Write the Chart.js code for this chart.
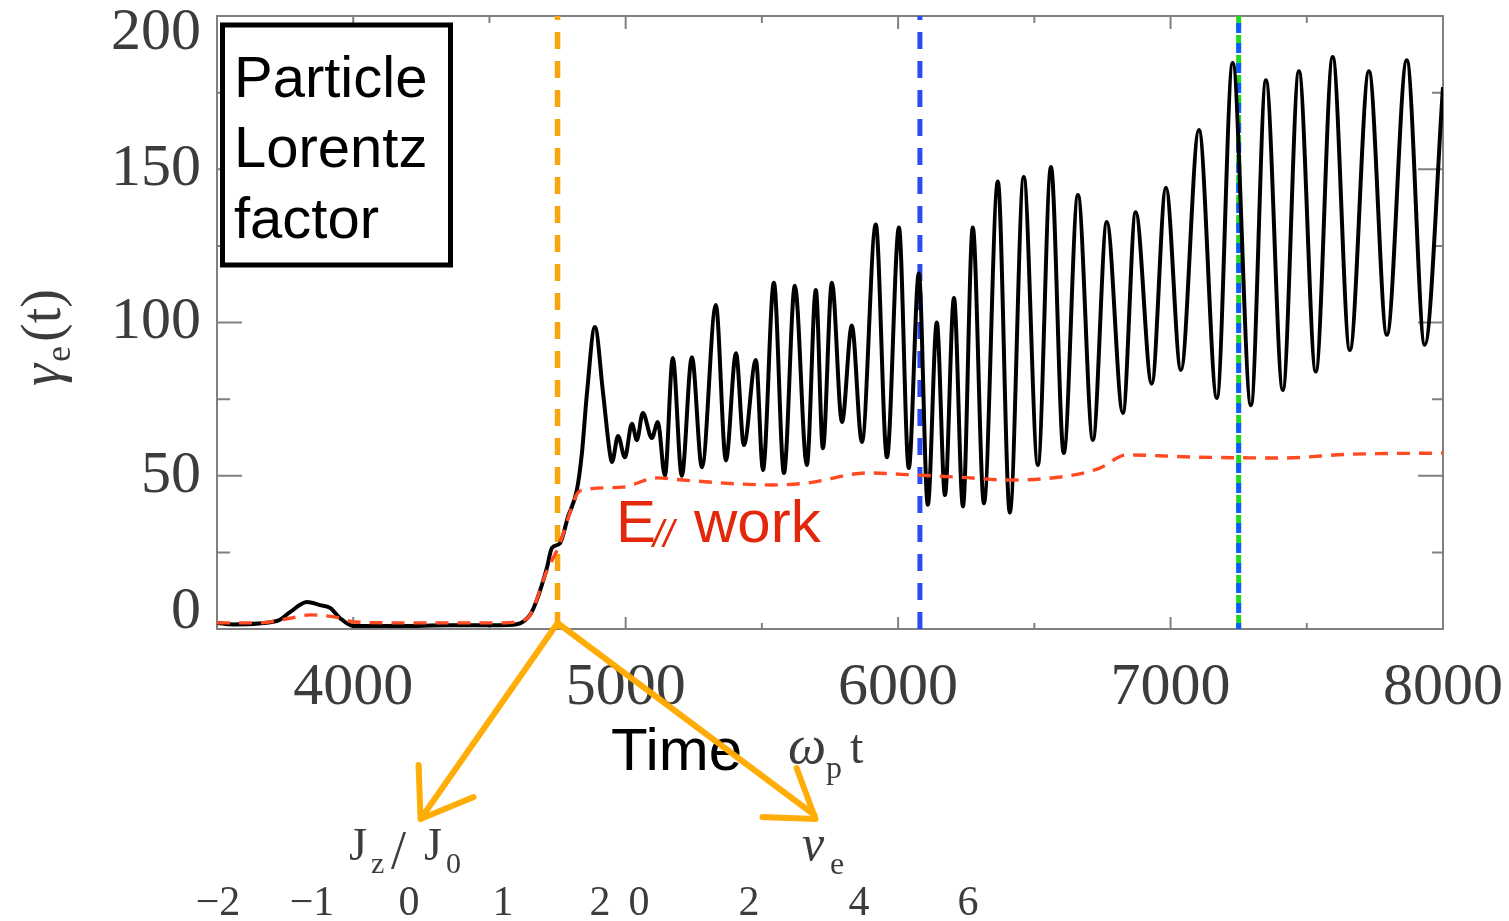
<!DOCTYPE html>
<html>
<head>
<meta charset="utf-8">
<script src="https://cdn.jsdelivr.net/npm/chart.js@4.4.0/dist/chart.umd.min.js"></script>
<style>
  body { margin: 0; background: #fff; }
  #wrap { width: 1509px; height: 921px; position: relative; }
</style>
</head>
<body>
<div id="wrap"><canvas id="gammaChart"></canvas></div>
<script>
// Lorentz factor of the particle vs time (omega_p t)
const gammaT = [3500, 3560, 3720, 3768, 3830, 3878, 3915, 3951, 4000, 4170,
                4350, 4575, 4649, 4674, 4711, 4729, 4759, 4788, 4821, 4839,
                4858, 4887, 4917, 4942, 4950, 4972, 4997, 5023, 5041, 5063,
                5096, 5118, 5144, 5173, 5206, 5243, 5280, 5331, 5368, 5405,
                5434, 5478, 5504, 5544, 5581, 5621, 5665, 5698, 5724, 5757,
                5794, 5830, 5867, 5918, 5959, 6003, 6039, 6076, 6109, 6142,
                6172, 6205, 6238, 6274, 6315, 6366, 6410, 6461, 6513, 6561,
                6608, 6660, 6715, 6766, 6825, 6872, 6931, 6983, 7038, 7104,
                7170, 7228, 7295, 7350, 7412, 7471, 7533, 7595, 7658, 7728,
                7794, 7867, 7933, 8000];
const gammaV = [2, 1.5, 2.6, 5.5, 8.8, 7.8, 6.9, 3.6, 1, 1,
                1.2, 1.3, 4.6, 9.5, 20, 26.4, 28, 36.5, 45.4, 57,
                77, 98.5, 77, 57.4, 54.5, 63, 56, 67, 61.6, 70.5,
                62.3, 67.5, 50, 88.4, 50, 88.7, 52.8, 105.7, 55, 90,
                60, 87.8, 51.9, 113, 50.9, 112, 53.5, 110.6, 59, 113,
                67.5, 99, 61, 132, 56, 131, 52.5, 116, 40.5, 100,
                43.7, 108, 40, 131, 41, 146, 38, 147.5, 53.5, 150.7,
                57.4, 141.6, 61.7, 132.8, 70.5, 136, 80, 144, 84.5, 162.8,
                75.4, 184.7, 73, 179, 78, 182, 84, 186.6, 91, 182,
                96, 185.6, 92.7, 176.8];

// work done by the parallel electric field
const workT = [3500, 3660, 3768, 3841, 3951, 4000, 4170, 4540, 4612, 4649,
               4711, 4759, 4788, 4821, 4843, 4990, 5115, 5210, 5419, 5540,
               5665, 5885, 6069, 6227, 6410, 6641, 6740, 6839, 7082, 7412,
               7654, 8000];
const workV = [2, 2, 3.5, 4.6, 3.6, 2.3, 2, 2, 2.6, 4.5,
               19, 28, 36, 44, 45.4, 46.3, 49.3, 48.6, 47.3, 47,
               47.6, 50.9, 50.2, 49.5, 48.6, 50.2, 52.5, 56.8, 56.1, 55.8,
               57, 57.4];

// snapshot times marked with vertical dashed lines
const markerTimes = [4750, 6080, 7250];
const markerColors = ['#f9a30f', '#2b4cf2', '#0a5cff'];

const xTicks = [4000, 5000, 6000, 7000, 8000];
const xMinor = [4500, 5500, 6500, 7500];
const yTicks = [0, 50, 100, 150, 200];
const yMinor = [25, 75, 125, 175];

const serif = '"Liberation Serif", "DejaVu Serif", serif';
const sans = '"Liberation Sans", Arial, sans-serif';
const greyText = '#3c3c3c';

const pts = (xs, ys) => xs.map((t, i) => ({ x: t, y: ys[i] }));
const vline = t => [{ x: t, y: 0 }, { x: t, y: 200 }];

const datasets = [
  {
    label: 'E work',
    data: pts(workT, workV),
    borderColor: '#ff4a22',
    borderWidth: 3.4,
    borderDash: [13, 9],
    pointRadius: 0,
    cubicInterpolationMode: 'monotone',
    order: 0
  },
  {
    label: 'gamma',
    data: pts(gammaT, gammaV),
    borderColor: '#000',
    borderWidth: 4,
    pointRadius: 0,
    cubicInterpolationMode: 'monotone',
    order: 1
  },
  {
    // green line under the last blue one
    label: 'snap green',
    data: vline(markerTimes[2]),
    borderColor: '#1fd81f',
    borderWidth: 5,
    borderDash: [14, 6],
    pointRadius: 0,
    order: 3
  }
];
markerTimes.forEach((t, i) => {
  datasets.push({
    label: 'snap ' + i,
    data: vline(t),
    borderColor: markerColors[i],
    borderWidth: i === 0 ? 5.5 : 5,
    borderDash: i === 2 ? [10, 10] : [17, 12],
    borderDashOffset: i === 2 ? 4 : 0,
    pointRadius: 0,
    order: 2
  });
});

// frame, inward ticks, y tick labels and the annotations
const frame = {
  id: 'frame',
  beforeDatasetsDraw(chart) {
    const { ctx, chartArea: a, scales: { x, y } } = chart;
    ctx.save();
    ctx.strokeStyle = '#808080';
    ctx.lineWidth = 2;
    ctx.strokeRect(a.left, a.top, a.right - a.left, a.bottom - a.top);
    ctx.beginPath();
    xTicks.concat(xMinor).forEach(v => {
      const px = x.getPixelForValue(v);
      const major = xTicks.includes(v);
      ctx.moveTo(px, a.bottom); ctx.lineTo(px, a.bottom - (major ? 12 : 6));
      ctx.moveTo(px, a.top); ctx.lineTo(px, a.top + (major ? 13 : 7));
    });
    yTicks.concat(yMinor).forEach(v => {
      const py = y.getPixelForValue(v);
      const major = yTicks.includes(v);
      ctx.moveTo(a.left, py); ctx.lineTo(a.left + (major ? 25 : 13), py);
      ctx.moveTo(a.right, py); ctx.lineTo(a.right - (major ? 25 : 11), py);
    });
    ctx.stroke();
    ctx.restore();
  },
  afterDraw(chart) {
    const { ctx, chartArea: a, scales: { x, y } } = chart;
    ctx.save();
    // y tick labels, kept inside the frame like the original
    ctx.fillStyle = greyText;
    ctx.font = '60px ' + serif;
    ctx.textAlign = 'right';
    ctx.textBaseline = 'middle';
    yTicks.forEach(v => {
      let py = y.getPixelForValue(v);
      py = Math.min(Math.max(py, a.top + 17), a.bottom - 17);
      ctx.fillText(String(v), a.left - 16, py);
    });

    // y axis title gamma_e(t)
    ctx.save();
    ctx.translate(60, 386);
    ctx.rotate(-Math.PI / 2);
    ctx.textAlign = 'left';
    ctx.textBaseline = 'alphabetic';
    ctx.font = 'italic 56px ' + serif;
    ctx.fillText('γ', 0, 0);
    let w = ctx.measureText('γ').width + 2;
    ctx.font = '36px ' + serif;
    ctx.fillText('e', w, 10);
    w += ctx.measureText('e').width + 4;
    ctx.font = '56px ' + serif;
    ctx.fillText('(t)', w, 0);
    ctx.restore();

    // omega_p t
    ctx.textAlign = 'left';
    ctx.textBaseline = 'alphabetic';
    ctx.font = 'italic 54px ' + serif;
    ctx.fillText('ω', 788, 763);
    ctx.font = '32px ' + serif;
    ctx.fillText('p', 826, 778);
    ctx.font = '48px ' + serif;
    ctx.fillText('t', 850, 763);

    // labels of the neighbouring panels
    ctx.font = '46px ' + serif;
    ctx.fillText('J', 349, 860);
    ctx.font = '30px ' + serif;
    ctx.fillText('z', 371, 873);
    ctx.font = '54px ' + serif;
    ctx.fillText('/', 391, 868);
    ctx.font = '46px ' + serif;
    ctx.fillText('J', 424, 860);
    ctx.font = '30px ' + serif;
    ctx.fillText('0', 446, 873);
    ctx.font = 'italic 50px ' + serif;
    ctx.fillText('v', 802, 860);
    ctx.font = '32px ' + serif;
    ctx.fillText('e', 830, 874);

    ctx.font = '42px ' + serif;
    ctx.textAlign = 'center';
    const bottomNums = [['−2', 218], ['−1', 312], ['0', 409], ['1', 503],
                        ['2', 600], ['0', 639], ['2', 749], ['4', 859], ['6', 968]];
    bottomNums.forEach(([s, px]) => ctx.fillText(s, px, 915));

    // title box
    ctx.fillStyle = '#fff';
    ctx.fillRect(223, 25, 228, 240);
    ctx.strokeStyle = '#000';
    ctx.lineWidth = 5;
    ctx.strokeRect(222.5, 25, 228, 240);
    ctx.fillStyle = '#000';
    ctx.textAlign = 'left';
    ctx.font = '58px ' + sans;
    ctx.fillText('Particle', 234, 97);
    ctx.fillText('Lorentz', 234, 167);
    ctx.fillText('factor', 234, 238);

    // E// work label
    ctx.fillStyle = '#e3270b';
    ctx.font = '60px ' + sans;
    ctx.fillText('E', 616, 542);
    ctx.font = 'italic 38px ' + sans;
    ctx.fillText('//', 653, 547);
    ctx.font = '60px ' + sans;
    ctx.fillText('work', 694, 542);

    // Time
    ctx.fillStyle = '#000';
    ctx.font = '60px ' + sans;
    ctx.fillText('Time', 611, 770);

    // hand drawn orange arrows from the first snapshot
    const ax = x.getPixelForValue(markerTimes[0]);
    const ay = y.getPixelForValue(0) - 6;
    ctx.strokeStyle = '#ffab00';
    ctx.lineCap = 'round';
    ctx.lineJoin = 'round';
    const stroke = segs => {
      ctx.beginPath();
      segs.forEach(([x1, y1, x2, y2]) => { ctx.moveTo(x1, y1); ctx.lineTo(x2, y2); });
      ctx.stroke();
    };
    [[6, 0], [3, 1.5]].forEach(([lw, d]) => {
      ctx.lineWidth = lw;
      ctx.globalAlpha = lw === 6 ? 0.95 : 0.7;
      stroke([
        [ax + d, ay, ax - 137 + d, ay + 196],
        [ax - 137, ay + 196, ax - 139 + d, ay + 142],
        [ax - 137, ay + 196, ax - 84, ay + 174 + d],
        [ax - d, ay, ax + 257, ay + 192 + d],
        [ax + 258, ay + 196, ax + 239 + d, ay + 145],
        [ax + 258, ay + 196, ax + 205, ay + 194 + d]
      ]);
    });
    ctx.restore();
  }
};

new Chart(document.getElementById('gammaChart'), {
  type: 'line',
  data: { datasets },
  options: {
    responsive: true,
    maintainAspectRatio: false,
    devicePixelRatio: 1,
    animation: false,
    layout: { padding: { left: 0, top: 16, right: 66, bottom: 0 } },
    plugins: { legend: { display: false }, tooltip: { enabled: false } },
    scales: {
      x: {
        type: 'linear',
        min: 3500,
        max: 8000,
        grid: { display: false },
        border: { display: false },
        afterBuildTicks: s => { s.ticks = xTicks.map(v => ({ value: v })); },
        afterFit: s => { s.height = 292; s.paddingLeft = 0; s.paddingRight = 0; },
        ticks: {
          color: greyText,
          font: { family: serif, size: 60, lineHeight: 1.2 },
          padding: 15,
          maxRotation: 0,
          autoSkip: false,
          callback: v => String(v)
        }
      },
      y: {
        type: 'linear',
        min: 0,
        max: 200,
        grid: { display: false },
        border: { display: false },
        ticks: { display: false },
        afterFit: s => { s.width = 217; }
      }
    }
  },
  plugins: [frame]
});
</script>
</body>
</html>
